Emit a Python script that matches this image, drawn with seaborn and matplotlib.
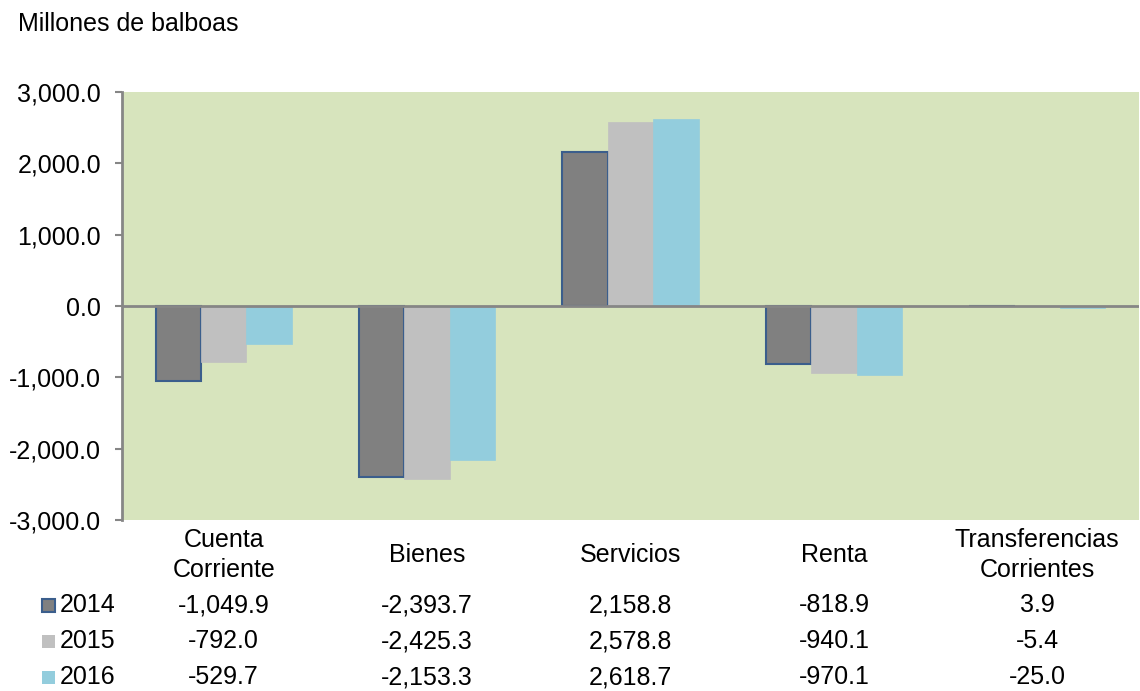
import matplotlib
matplotlib.use("Agg")
import matplotlib.pyplot as plt
import seaborn as sns
import pandas as pd
from matplotlib.transforms import blended_transform_factory
from matplotlib.patches import Rectangle

categories = ["Cuenta\nCorriente", "Bienes", "Servicios", "Renta", "Transferencias\nCorrientes"]
years = ["2014", "2015", "2016"]
v2014 = [-1049.9, -2393.7, 2158.8, -818.9, 3.9]
v2015 = [-792.0, -2425.3, 2578.8, -940.1, -5.4]
v2016 = [-529.7, -2153.3, 2618.7, -970.1, -25.0]
yticks = [-3000, -2000, -1000, 0, 1000, 2000, 3000]

colors = ["#808080", "#C0C0C0", "#93CDDD"]
edges = ["#3B5E8C", "#C0C0C0", "#93CDDD"]

rows = []
for yr, vals in zip(years, [v2014, v2015, v2016]):
    for c, v in zip(categories, vals):
        rows.append({"cat": c, "year": yr, "value": v})
df = pd.DataFrame(rows)

sns.set_theme(style="white")
plt.rcParams["font.family"] = ["Liberation Sans", "DejaVu Sans"]
plt.rcParams["text.color"] = "black"
plt.rcParams["ytick.labelcolor"] = "black"

W, H = 1140, 691
fig = plt.figure(figsize=(W / 100, H / 100), dpi=100)
ax = fig.add_axes([122 / W, 1 - 520 / H, (1139 - 122) / W, (520 - 92) / H])
ax.set_facecolor("#D7E4BD")

sns.barplot(data=df, x="cat", y="value", hue="year", order=categories,
            hue_order=years, palette=colors, width=0.67, gap=0,
            legend=False, ax=ax, saturation=1)

for i, cont in enumerate(ax.containers):
    for p in cont:
        p.set_edgecolor(edges[i])
        p.set_linewidth(1.5 if i == 0 else 0.5)
        p.set_zorder(3)

ax.axhline(0, color="#868686", lw=2, zorder=4)
ax.set_xlim(-0.5, 4.5)
ax.set_ylim(-3000, 3000)
ax.set_yticks(yticks)
ax.set_yticklabels([f"{t:,.1f}" for t in yticks], fontsize=18, color="black")
ax.tick_params(axis="y", which="major", length=5, width=1.5, color="#868686",
               direction="out", pad=10, left=True, labelcolor="black")
ax.tick_params(axis="x", bottom=False, labelbottom=False)
ax.set_xlabel("")
ax.set_ylabel("")
for s in ["top", "right", "bottom"]:
    ax.spines[s].set_visible(False)
ax.spines["left"].set_color("#868686")
ax.spines["left"].set_linewidth(2)

fig.text(18 / W, 1 - 24 / H, "Millones de balboas", fontsize=18, va="center",
         ha="left", color="black")

tr = blended_transform_factory(ax.transData, fig.transFigure)
def fy(py):
    return 1 - py / H

for i, c in enumerate(categories):
    ax.text(i, fy(555), c, transform=tr, ha="center", va="center", fontsize=18,
            linespacing=1.32, clip_on=False, color="black")

row_y = [605, 641, 677]
for r, (yr, vals) in enumerate(zip(years, [v2014, v2015, v2016])):
    y = fy(row_y[r])
    fig.patches.append(Rectangle((42 / W, y - 6.5 / H), 13 / W, 13 / H,
                                 transform=fig.transFigure, facecolor=colors[r],
                                 edgecolor=edges[r], linewidth=1.5 if r == 0 else 0))
    fig.text(60 / W, y, yr, fontsize=18, va="center", ha="left", color="black")
    for i, v in enumerate(vals):
        ax.text(i, y, f"{v:,.1f}", transform=tr, ha="center", va="center",
                fontsize=18, clip_on=False, color="black")

fig.savefig("out.png", dpi=100)
